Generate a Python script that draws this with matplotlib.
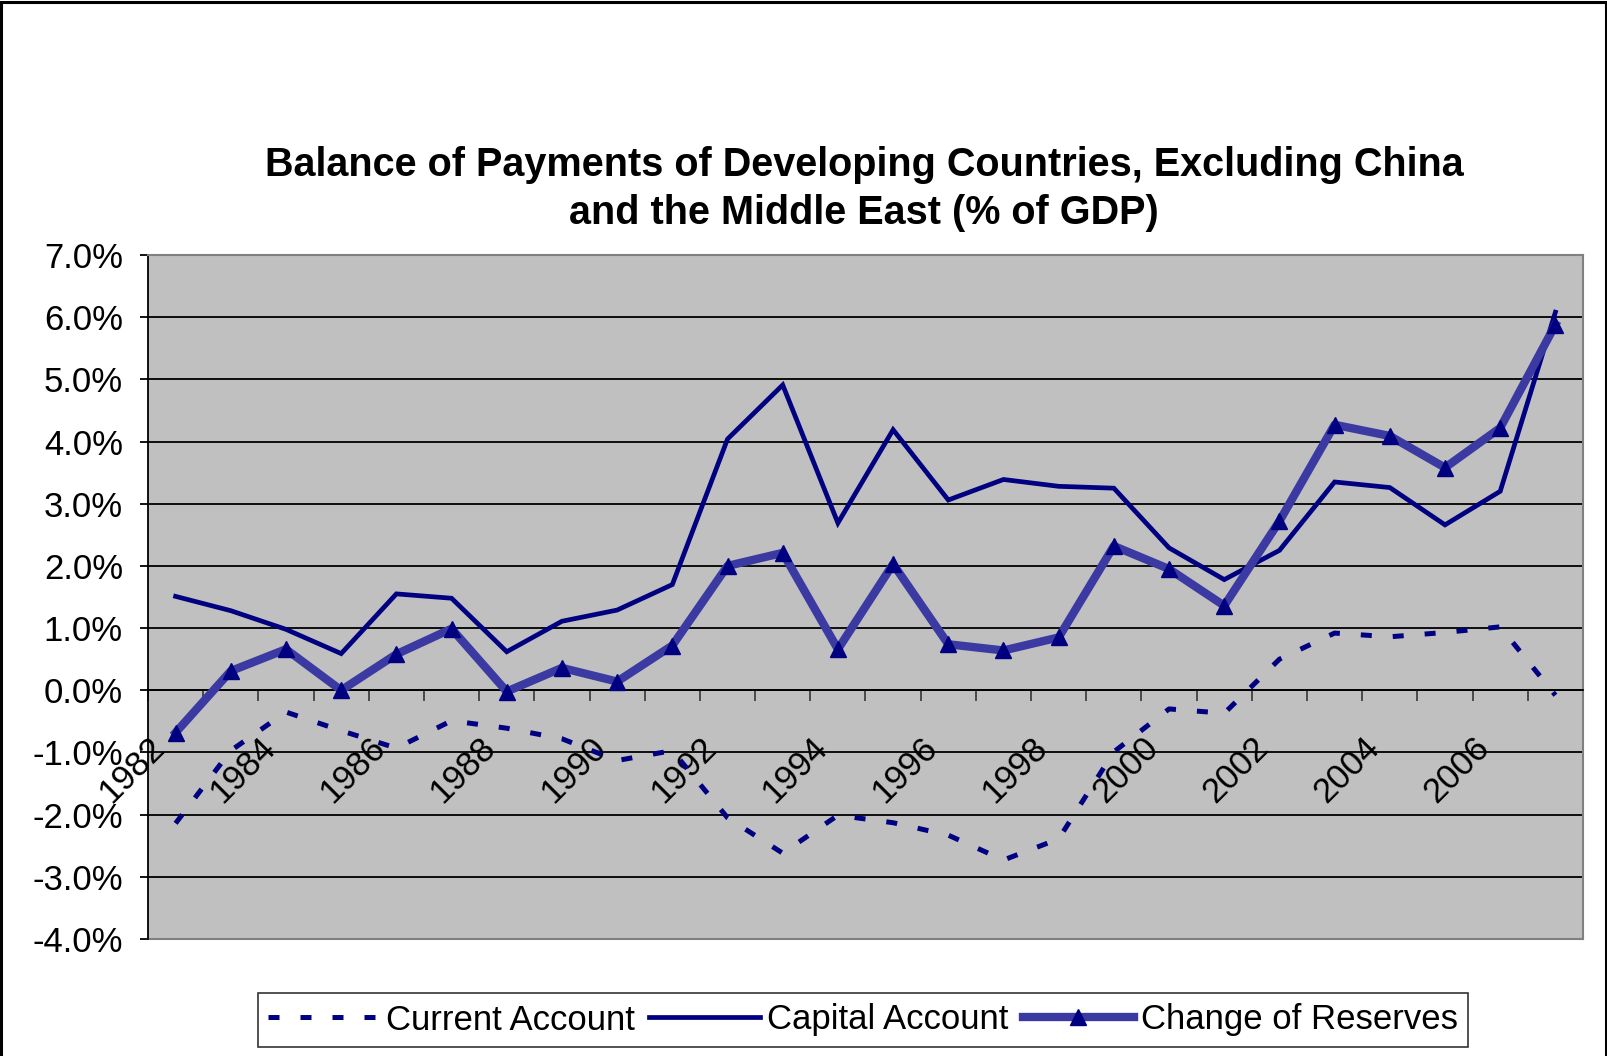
import matplotlib
matplotlib.use("Agg")
import matplotlib.pyplot as plt
import matplotlib.transforms as mtransforms
from matplotlib.patches import Rectangle
import numpy as np

plt.rcParams['font.family'] = ['Liberation Sans', 'DejaVu Sans']

years = list(range(1982, 2008))
current_account = [-2.14, -0.97, -0.35, -0.65, -0.93, -0.49, -0.61, -0.78, -1.13, -0.97,
                   -2.05, -2.62, -2.01, -2.13, -2.33, -2.73, -2.39, -0.99, -0.30, -0.37,
                   0.50, 0.92, 0.86, 0.93, 1.02, -0.08]
capital_account = [1.51, 1.28, 0.98, 0.59, 1.55, 1.48, 0.62, 1.11, 1.29, 1.70,
                   4.04, 4.91, 2.69, 4.19, 3.06, 3.39, 3.28, 3.25, 2.29, 1.78,
                   2.25, 3.35, 3.26, 2.66, 3.20, 6.08]
change_reserves = [-0.68, 0.31, 0.66, 0.0, 0.58, 0.99, -0.02, 0.36, 0.14, 0.72,
                   2.0, 2.21, 0.66, 2.03, 0.74, 0.64, 0.85, 2.32, 1.95, 1.36,
                   2.72, 4.27, 4.09, 3.58, 4.22, 5.88]
y_ticks = [-4, -3, -2, -1, 0, 1, 2, 3, 4, 5, 6, 7]
y_tick_labels = ["-4.0%", "-3.0%", "-2.0%", "-1.0%", "0.0%", "1.0%", "2.0%",
                 "3.0%", "4.0%", "5.0%", "6.0%", "7.0%"]
title = "Balance of Payments of Developing Countries, Excluding China\nand the Middle East (% of GDP)"

W, H = 1608, 1056
fig = plt.figure(figsize=(W / 100, H / 100), dpi=100)
fig.patch.set_facecolor("white")

L, R, T, B = 148, 1583, 255, 939
ax = fig.add_axes([L / W, 1 - B / H, (R - L) / W, (B - T) / H])
ax.set_facecolor("#C0C0C0")

n = len(years)
x = np.arange(n)
ax.set_xlim(-0.5, n - 0.5)
ax.set_ylim(-4, 7)

# grid lines
for yv in y_ticks:
    ax.axhline(yv, color="black", lw=1.3, zorder=1)

navy = "#000080"
ax.plot(x, current_account, color=navy, lw=3.6, dashes=(2.2, 4.2),
        label="Current Account", zorder=3)
ax.plot(x, capital_account, color=navy, lw=3.4, label="Capital Account", zorder=3,
        solid_joinstyle="miter")
ax.plot(x, change_reserves, color="#3A3AA2", lw=6.0, marker="^", markersize=12,
        markerfacecolor=navy, markeredgecolor=navy, label="Change of Reserves", zorder=4)

# spines
for s in ["top", "right"]:
    ax.spines[s].set_color("#808080")
    ax.spines[s].set_linewidth(1.5)
ax.spines["left"].set_color("black")
ax.spines["left"].set_linewidth(1.3)
ax.spines["bottom"].set_position(("data", 0))
ax.spines["bottom"].set_color("black")
ax.spines["bottom"].set_linewidth(1.3)
# bottom border of plot area
ax.plot([0, 1], [0, 0], transform=ax.transAxes, color="#808080", lw=1.5, clip_on=False, zorder=2)

ax.set_yticks(y_ticks)
ax.set_yticklabels(y_tick_labels, fontsize=25)
ax.tick_params(axis="y", direction="out", length=6, width=1.3, pad=12)

ax.set_xticks(np.arange(n + 1) - 0.5)
ax.set_xticklabels([])
ax.tick_params(axis="x", direction="out", length=8, width=1.3, color="#404040")

# rotated category labels
offset = mtransforms.ScaledTranslation(-16 / 100, -52 / 100, fig.dpi_scale_trans)
for i in range(0, n, 2):
    ax.text(x[i], 0, str(years[i]), rotation=45, rotation_mode="anchor",
            ha="right", va="center", fontsize=25, transform=ax.transData + offset,
            zorder=2, clip_on=False)

fig.text(864 / W, 1 - 189 / H, title, ha="center", va="center", fontsize=28.5,
         fontweight="bold", linespacing=1.31)

leg = fig.legend(loc="center", bbox_to_anchor=(863 / W, 1 - 1020 / H), ncol=3,
                 fontsize=25, frameon=True, fancybox=False, handlelength=3.2,
                 handletextpad=0.2, columnspacing=0.4, borderpad=0.3,
                 edgecolor="black")
leg.get_frame().set_linewidth(1.2)

# figure border
fig.patches.append(Rectangle((1 / W, -0.01), (W - 3) / W, 1.0 + 0.01 - 1.5 / H,
                             transform=fig.transFigure, fill=False,
                             edgecolor="black", lw=2.2))

fig.savefig("out.png", dpi=100, facecolor="white")
